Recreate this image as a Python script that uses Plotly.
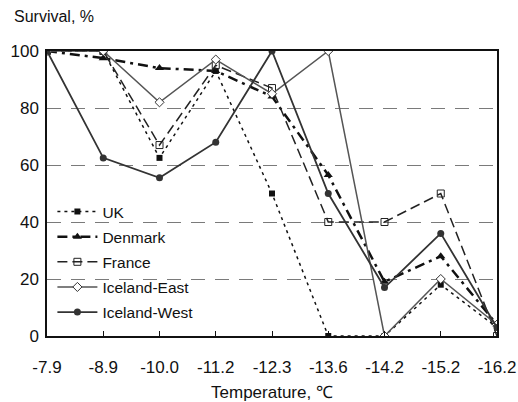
import plotly.graph_objects as go

temps = ["-7.9", "-8.9", "-10.0", "-11.2", "-12.3", "-13.6", "-14.2", "-15.2", "-16.2"]
uk = [100, 100, 62.5, 93, 50, 0, 0, 18, 3]
denmark = [100, 97.5, 94, 93, 84, 56.5, 19, 28, 4]
france = [100, 100, 67, 95, 87, 40, 40, 50, 0]
iceland_east = [100, 100, 82, 97, 85, 100, 0, 20, 4]
iceland_west = [100, 62.5, 55.5, 68, 100, 50, 17, 36, 3]

fig = go.Figure()
fig.add_trace(go.Scatter(x=temps, y=uk, name="UK", mode="lines+markers", legendgroup="a",
                         line=dict(color="#111", width=1.5, dash="3px,4px"),
                         marker=dict(symbol="square", size=6, color="#111")))
fig.add_trace(go.Scatter(x=temps, y=denmark, name="Denmark", mode="lines+markers", legendgroup="b",
                         line=dict(color="#111", width=2.5, dash="10px,5px,3px,5px"),
                         marker=dict(symbol="triangle-up", size=8, color="#111")))
fig.add_trace(go.Scatter(x=temps, y=france, name="France", mode="lines+markers", legendgroup="c",
                         line=dict(color="#222", width=1.5, dash="10px,5px"),
                         marker=dict(symbol="square-open", size=7, color="#222", line=dict(width=1))))
fig.add_trace(go.Scatter(x=temps, y=iceland_east, name="Iceland-East", mode="lines+markers", legendgroup="d",
                         line=dict(color="#555", width=1.5),
                         marker=dict(symbol="diamond", size=7, color="white", line=dict(width=1, color="#333"))))
fig.add_trace(go.Scatter(x=temps, y=iceland_west, name="Iceland-West", mode="lines+markers", legendgroup="e",
                         line=dict(color="#333", width=1.8),
                         marker=dict(symbol="circle", size=7, color="#333")))

fig.update_layout(
    width=518, height=402,
    margin=dict(l=47, r=21, t=51, b=66),
    plot_bgcolor="white", paper_bgcolor="white",
    font=dict(family="Liberation Sans, Arial, sans-serif", size=14, color="#111"),
    showlegend=True,
    legend=dict(x=0.012, y=0.495, xanchor="left", yanchor="top", bgcolor="rgba(0,0,0,0)",
                font=dict(size=15.5), itemwidth=40, tracegroupgap=2),
    annotations=[dict(text="Survival, %", xref="paper", yref="paper", x=-0.078, y=1.085,
                      xanchor="left", yanchor="bottom", showarrow=False, font=dict(size=16))],
)
fig.update_xaxes(type="category", range=[0, 8], showline=True, linecolor="#111", linewidth=1.5,
                 mirror=True, ticks="inside", ticklen=5, tickcolor="#111", showgrid=False,
                 automargin=False, ticklabelstandoff=15,
                 title=dict(text="Temperature, ℃", standoff=14, font=dict(size=17)), tickfont=dict(size=17))
fig.update_yaxes(range=[0, 100], tickvals=[0, 20, 40, 60, 80, 100], showline=True, linecolor="#111",
                 linewidth=1.5, mirror=True, ticks="", showgrid=True, gridcolor="#7a7a7a",
                 automargin=False, ticklabelstandoff=3,
                 griddash="14px,10px", gridwidth=1.2, zeroline=False, tickfont=dict(size=17))

fig.write_html("out.html", config={"displayModeBar": False},
               post_script="document.body.style.margin='0';")
